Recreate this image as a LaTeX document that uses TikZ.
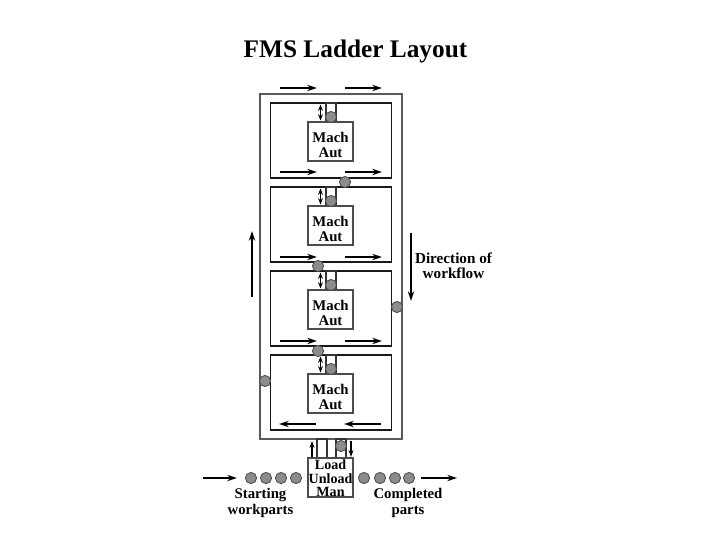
\documentclass[tikz,border=0pt]{standalone}
\usepackage{fontspec}
\usetikzlibrary{arrows.meta}
\setmainfont{Liberation Serif}
\begin{document}
\begin{tikzpicture}[
            x=0.025cm,
            y=-0.025cm,
            every node/.style={font=\bfseries\fontsize{10.5}{10.7}\selectfont},
            loopbox/.style={
                rectangle,
                draw=black!65,
                line width=1.2pt,
                inner sep=0pt,
                minimum width=3.55cm,
                minimum height=8.625cm
            },
            cell/.style={
                rectangle,
                draw=black!90,
                line width=1pt,
                inner sep=0pt,
                minimum width=3.03cm,
                minimum height=1.87cm
            },
            mach/.style={
                rectangle,
                draw=black!70,
                fill=white,
                line width=0.75pt,
                inner sep=0pt,
                minimum width=1.125cm,
                minimum height=0.975cm
            },
            chute/.style={
                rectangle,
                draw=black!80,
                line width=0.8pt,
                inner sep=0pt,
                minimum width=0.25cm,
                minimum height=0.475cm
            },
            part/.style={
                circle,
                draw=black!70,
                fill=black!45,
                line width=0.6pt,
                inner sep=0pt,
                minimum size=0.28cm
            },
            arrow/.style={
                -{Stealth[length=7pt,width=4.5pt]},
                line width=1pt,
                draw=black
            },
            smallarrow/.style={
                {Stealth[length=4.5pt,width=3.5pt]}-{Stealth[length=4.5pt,width=3.5pt]},
                line width=0.8pt,
                draw=black
            },
            note/.style={
                align=center,
                font=\bfseries\fontsize{10.8}{10.7}\selectfont
            },
            caption/.style={
                align=center,
                font=\bfseries\fontsize{10.5}{11.4}\selectfont
            }
        ]
            \useasboundingbox (0,0) rectangle (720,540);
            \fill[white] (0,0) rectangle (720,540);

            % Title
            \node[font=\bfseries\fontsize{18}{20}\selectfont] (title) at (355.5,51.5) {FMS Ladder Layout};

            % Ladder
            \node[loopbox] (ladder) at (331,266.5) {};

            % Rungs
            \foreach \r/\t in {1/103,2/187,3/271,4/355} {
                \node[cell] (cell\r) at (331,\t+37.5) {};
                \node[chute] (chute\r) at (331,\t+9.5) {};
                \node[mach] (mach\r) at (330.5,\t+38.5) {};
                \node[align=center] (machname\r) at (330.5,\t+41.5) {Mach\\Aut};
                \draw[smallarrow] (320.5,\t+1.5) -- (320.5,\t+17.5);
                \node[part] (station\r) at (331,\t+14) {};
            }

            % Load station
            \node[chute] (feedin) at (322,448.5) {};
            \node[chute] (feedout) at (341,448.5) {};
            \node[mach] (load) at (330.5,477.5) {};
            \node[align=center, font=\bfseries\fontsize{10}{9.5}\selectfont] (loadname) at (330.5,478.5) {Load\\Unload\\Man};
            \node[part] (loadpart) at (341,446) {};

            % Ladder arrows
            \foreach \y in {88,172,257,341} {
                \draw[arrow] (280,\y) -- (317,\y);
                \draw[arrow] (345,\y) -- (382,\y);
            }
            \draw[arrow] (316,424) -- (279,424);
            \draw[arrow] (381,424) -- (344,424);
            \draw[arrow] (252,297) -- (252,231);
            \draw[arrow] (411,233) -- (411,301);
            \draw[arrow, -{Stealth[length=5pt,width=3.5pt]}] (312,457) -- (312,441);
            \draw[arrow, -{Stealth[length=5pt,width=3.5pt]}] (351,441) -- (351,457);

            % Parts on the ladder
            \node[part] (a) at (345,182) {};
            \node[part] (b) at (318,266) {};
            \node[part] (c) at (318,351) {};
            \node[part] (d) at (265,381) {};
            \node[part] (e) at (397,307) {};

            % Parts in and out
            \foreach \x in {251,266,281,296,364,380,395,409} {
                \node[part] (queue\x) at (\x,478) {};
            }
            \draw[arrow] (203,478) -- (237,478);
            \draw[arrow] (421,478) -- (457,478);

            % Labels
            \node[note] (workflow) at (453.5,265.5) {Direction of\\workflow};
            \node[caption] (starting) at (260.5,503) {Starting\\workparts};
            \node[caption] (completed) at (408,503) {Completed\\parts};
        \end{tikzpicture}
\end{document}
